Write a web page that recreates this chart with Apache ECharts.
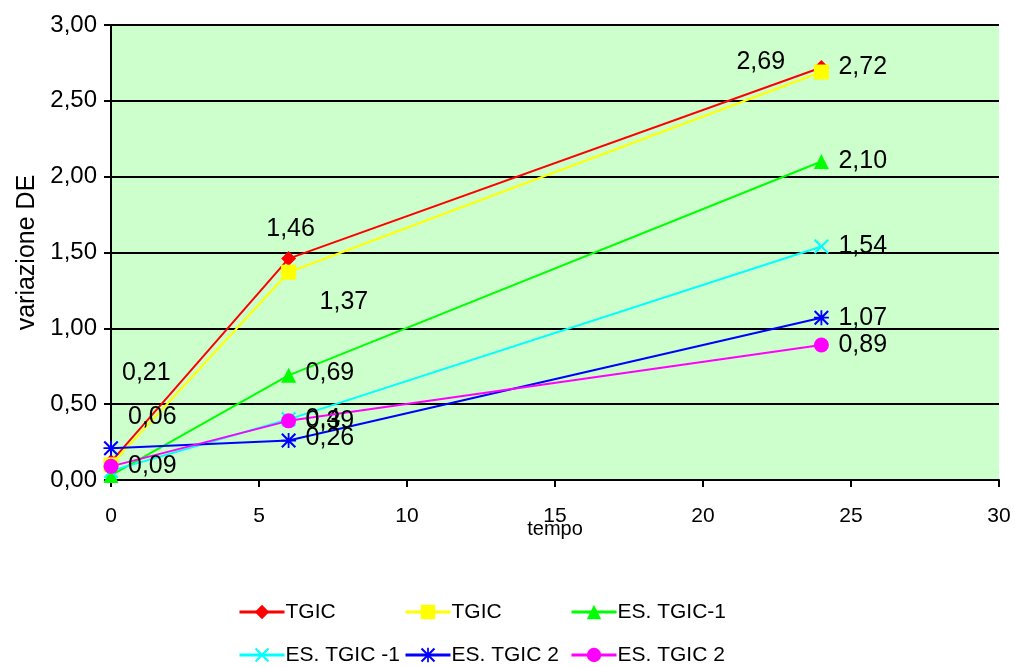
<!DOCTYPE html>
<html><head><meta charset="utf-8">
<script src="https://cdn.jsdelivr.net/npm/echarts@6/dist/echarts.min.js"></script>
<style>html,body{margin:0;padding:0;background:#fff}#c{width:1015px;height:667px}</style>
</head><body><div id="c"></div>
<script>
// ---- data ----
var times = [0, 6, 24];
var seriesNames = ['TGIC', 'TGIC', 'ES. TGIC-1', 'ES. TGIC -1', 'ES. TGIC 2', 'ES. TGIC 2'];
var tgicA = [0.12, 1.46, 2.72];
var tgicB = [0.10, 1.37, 2.69];
var esTgic1a = [0.03, 0.69, 2.10];
var esTgic1b = [0.06, 0.40, 1.54];
var esTgic2a = [0.21, 0.26, 1.07];
var esTgic2b = [0.09, 0.39, 0.89];
// which points carry a value label
var labelShown = [[false, true, true], [false, true, true], [false, true, true], [true, true, true], [true, true, true], [true, true, true]];
var yTicks = [0, 0.5, 1, 1.5, 2, 2.5, 3];

// ---- styles ----
var colors = ['#ff0000', '#ffff00', '#00ff00', '#00ffff', '#0000ff', '#ff00ff'];
var crossPath = 'path://M0,1L1,0L10,9L9,10Z M9,0L10,1L1,10L0,9Z';
var starPath = 'path://M0,1L1,0L10,9L9,10Z M9,0L10,1L1,10L0,9Z M4.4,0L5.6,0L5.6,10L4.4,10Z M0,4.4L10,4.4L10,5.6L0,5.6Z';
var symbols = ['diamond', 'rect', 'triangle', crossPath, starPath, 'circle'];
var symbolSizes = [15, 15, 15, 15, 15, 15];
// label offsets relative to the point: [dx, dy, align]
var labelOffsets = [
  [null, [2, -29, 'center'], [17, 0, 'left']],
  [null, [31, 30, 'left'], [-85, -10, 'left']],
  [null, [17, -2, 'left'], [17, 0, 'left']],
  [[17, -54, 'left'], [17, 0, 'left'], [17, 0, 'left']],
  [[11, -75, 'left'], [17, -2, 'left'], [17, 0, 'left']],
  [[17, 0, 'left'], [17, 0, 'left'], [17, 0, 'left']]
];
var generalFormat = [false, false, false, true, false, false];

var allValues = [tgicA, tgicB, esTgic1a, esTgic1b, esTgic2a, esTgic2b];

function fmt(v, general) {
  var s = general ? String(+v.toFixed(2)) : v.toFixed(2);
  return s.replace('.', ',');
}

var series = allValues.map(function (vals, si) {
  return {
    name: 's' + si,
    type: 'line',
    data: vals.map(function (v, pi) {
      var off = labelOffsets[si][pi];
      var item = { value: [times[pi], v] };
      if (labelShown[si][pi] && off) {
        item.label = {
          show: true, position: 'inside', offset: [off[0], off[1]], align: off[2], verticalAlign: 'middle',
          formatter: fmt(v, generalFormat[si]),
          color: '#000', fontSize: 25, fontFamily: 'Liberation Sans, Arial, sans-serif'
        };
      }
      return item;
    }),
    symbol: symbols[si],
    symbolSize: symbolSizes[si],
    itemStyle: { color: colors[si] },
    lineStyle: { color: colors[si], width: 2 },
    label: { show: false },
    z: 2 + si,
    animation: false
  };
});

var legendPos = [[238, 600], [404, 600], [570, 600], [238, 643], [404, 643], [570, 643]];
var legends = legendPos.map(function (p, i) {
  return {
    left: p[0], top: p[1], orient: 'horizontal', padding: 0,
    data: ['s' + i], itemWidth: 45, itemHeight: 18, itemGap: 0,
    lineStyle: { width: 3 },
    formatter: function () { return seriesNames[i]; },
    textStyle: { fontSize: 21, color: '#000', fontFamily: 'Liberation Sans, Arial, sans-serif', padding: [0, 0, 0, -4], lineHeight: 24 },
    selectedMode: false
  };
});

var chart = echarts.init(document.getElementById('c'), null, { renderer: 'canvas' });
chart.setOption({
  animation: false,
  backgroundColor: '#fff',
  grid: { left: 111, top: 25, right: 16, bottom: 187, show: true, backgroundColor: '#ccffcc', borderWidth: 0 },
  legend: legends,
  xAxis: {
    type: 'value', min: 0, max: 30, interval: 5,
    name: 'tempo', nameLocation: 'middle', nameGap: 39, nameMoveOverlap: false,
    nameTextStyle: { fontSize: 20, color: '#000', fontFamily: 'Liberation Sans Narrow, Liberation Sans, Arial, sans-serif' },
    axisLine: { show: true, onZero: false, lineStyle: { color: '#000', width: 2 } },
    axisTick: { show: true, length: 7, lineStyle: { color: '#000', width: 2 } },
    axisLabel: { margin: 26, fontSize: 21, color: '#000', fontFamily: 'Liberation Sans Narrow, Liberation Sans, Arial, sans-serif' },
    splitLine: { show: false }
  },
  yAxis: {
    type: 'value', min: 0, max: 3, interval: 0.5,
    name: 'variazione DE', nameLocation: 'middle', nameGap: 71, nameRotate: 90,
    nameTextStyle: { fontSize: 25, color: '#000', fontFamily: 'Liberation Sans, Arial, sans-serif' },
    axisLine: { show: true, lineStyle: { color: '#000', width: 2 } },
    axisTick: { show: true, length: 7, lineStyle: { color: '#000', width: 2 } },
    axisLabel: {
      margin: 14, fontSize: 24, color: '#000', fontFamily: 'Liberation Sans, Arial, sans-serif',
      formatter: function (v) { return yTicks.indexOf(v) >= 0 ? v.toFixed(2).replace('.', ',') : ''; }
    },
    splitLine: { show: true, lineStyle: { color: '#000', width: 2 } }
  },
  series: series
});
</script></body></html>
